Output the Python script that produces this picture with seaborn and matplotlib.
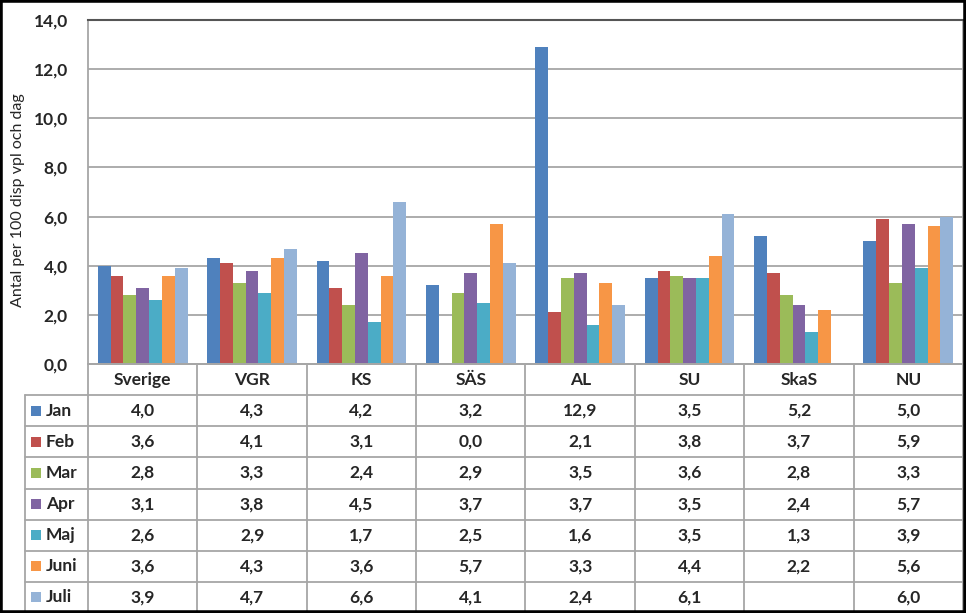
import numpy as np
import pandas as pd
import matplotlib
matplotlib.use("Agg")
import matplotlib.pyplot as plt
import seaborn as sns
from matplotlib.patches import Rectangle
from matplotlib.ticker import FuncFormatter

categories = ["Sverige", "VGR", "KS", "SÄS", "AL", "SU", "SkaS", "NU"]
months = ["Jan", "Feb", "Mar", "Apr", "Maj", "Juni", "Juli"]
jan = [4.0, 4.3, 4.2, 3.2, 12.9, 3.5, 5.2, 5.0]
feb = [3.6, 4.1, 3.1, 0.0, 2.1, 3.8, 3.7, 5.9]
mar = [2.8, 3.3, 2.4, 2.9, 3.5, 3.6, 2.8, 3.3]
apr = [3.1, 3.8, 4.5, 3.7, 3.7, 3.5, 2.4, 5.7]
maj = [2.6, 2.9, 1.7, 2.5, 1.6, 3.5, 1.3, 3.9]
juni = [3.6, 4.3, 3.6, 5.7, 3.3, 4.4, 2.2, 5.6]
juli = [3.9, 4.7, 6.6, 4.1, 2.4, 6.1, np.nan, 6.0]
series = [jan, feb, mar, apr, maj, juni, juli]
colors = ["#4F81BD", "#C0504D", "#9BBB59", "#8064A2", "#4BACC6", "#F79646", "#95B3D7"]
yticks = [0, 2, 4, 6, 8, 10, 12, 14]

rows = []
for m, vals in zip(months, series):
    for c, v in zip(categories, vals):
        rows.append({"cat": c, "month": m, "val": v})
df = pd.DataFrame(rows)

sns.set_style("white")
plt.rcParams['font.family'] = ['Lato', 'DejaVu Sans']

W, H = 966, 613
fig = plt.figure(figsize=(W / 100, H / 100), dpi=100)
fig.patch.set_facecolor("white")

pl, pr, pt, pb = 88, 963, 20, 364
ax = fig.add_axes([pl / W, 1 - pb / H, (pr - pl) / W, (pb - pt) / H])
sns.barplot(data=df.dropna(), x="cat", y="val", hue="month", order=categories,
            hue_order=months, palette=colors, saturation=1, width=0.82,
            legend=False, ax=ax, errorbar=None, linewidth=0)
ax.set_xlim(-0.5, len(categories) - 0.5)
ax.set_ylim(0, 14)
ax.set_yticks(yticks)
ax.yaxis.set_major_formatter(FuncFormatter(lambda v, p: f"{v:.1f}".replace(".", ",")))
ax.tick_params(axis="y", length=0, pad=14.4, labelsize=12.5)
for lab in ax.get_yticklabels():
    lab.set_fontweight("bold")
ax.set_xticks([])
ax.set_xlabel("")
ax.set_ylabel("Antal per 100 disp vpl och dag", fontsize=11.5)
ax.yaxis.set_label_coords(-0.072, 0.477)
ax.yaxis.grid(True, color="#A6A6A6", linewidth=1.3)
ax.set_axisbelow(True)
for s in ["left", "right", "bottom"]:
    ax.spines[s].set_color("#A6A6A6")
    ax.spines[s].set_linewidth(1.3)
ax.spines["top"].set_color("#555555")
ax.spines["top"].set_linewidth(1.5)

# data table
tl = 25
unit = (pr - pl) / len(categories)
x0 = -0.5 - (pl - tl) / unit
tab = fig.add_axes([tl / W, 0, (pr - tl) / W, 1 - pb / H])
tab.set_xlim(x0, len(categories) - 0.5)
nrows = len(months) + 1
tab.set_ylim(nrows, 0)
tab.axis("off")
lc = "#A6A6A6"
lw = 1.3
tab.plot([-0.5, len(categories) - 0.5], [0, 0], color=lc, lw=lw, clip_on=False)
for r in range(1, nrows):
    tab.plot([x0, len(categories) - 0.5], [r, r], color=lc, lw=lw, clip_on=False)
tab.plot([x0, x0], [1, nrows], color=lc, lw=lw, clip_on=False)
for i in range(len(categories) + 1):
    tab.plot([i - 0.5, i - 0.5], [0, nrows], color=lc, lw=lw, clip_on=False)
for i, c in enumerate(categories):
    tab.text(i, 0.5, c, ha="center", va="center", fontsize=12.5, fontweight="bold")
for r, (m, vals, col) in enumerate(zip(months, series, colors), start=1):
    tab.add_patch(Rectangle((x0 + 0.055, r + 0.5 - 0.16), 0.09, 0.32,
                            facecolor=col, edgecolor="none", clip_on=False))
    tab.text(x0 + 0.19, r + 0.5, m, ha="left", va="center", fontsize=12.5, fontweight="bold")
    for i, v in enumerate(vals):
        if not np.isnan(v):
            tab.text(i, r + 0.5, f"{v:.1f}".replace(".", ","), ha="center", va="center",
                     fontsize=12.5, fontweight="bold")

fig.patches.append(Rectangle((0, 0), 1, 1, transform=fig.transFigure, fill=False,
                             edgecolor="black", linewidth=4, zorder=10))

fig.savefig("out.png", dpi=100, facecolor="white")
